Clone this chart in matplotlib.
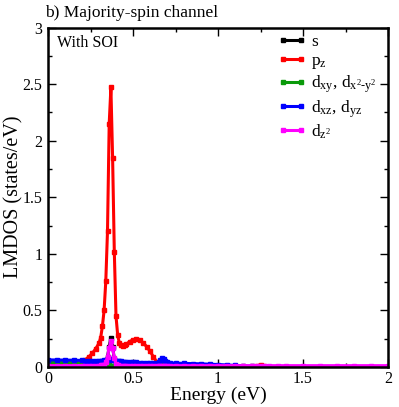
import matplotlib
matplotlib.use("Agg")
import matplotlib.pyplot as plt
from matplotlib.ticker import MultipleLocator

plt.rcParams['font.family'] = ['Liberation Serif', 'DejaVu Serif']
plt.rcParams['mathtext.fontset'] = 'custom'
plt.rcParams['mathtext.rm'] = 'Liberation Serif'
plt.rcParams['mathtext.it'] = 'Liberation Serif:italic'

energy = [0.00, 0.05, 0.10, 0.15, 0.20, 0.22, 0.24, 0.26, 0.28,
          0.30, 0.31, 0.32, 0.33, 0.34, 0.35, 0.36, 0.37, 0.38, 0.39,
          0.40, 0.41, 0.42, 0.43, 0.44, 0.45, 0.46,
          0.48, 0.50, 0.52, 0.54, 0.56, 0.58, 0.60, 0.62, 0.64,
          0.65, 0.66, 0.67, 0.68, 0.69, 0.70,
          0.72, 0.75, 0.80, 0.85, 0.90, 0.95, 1.00,
          1.05, 1.10, 1.15, 1.20,
          1.23, 1.25, 1.27, 1.30,
          1.35, 1.40, 1.50, 1.60, 1.70, 1.80, 1.90, 2.00]

dos_s = [0.004, 0.004, 0.004, 0.004, 0.004, 0.004, 0.004, 0.005, 0.005,
         0.006, 0.008, 0.012, 0.025, 0.05, 0.09, 0.18, 0.26, 0.18, 0.07,
         0.025, 0.012, 0.008, 0.006, 0.005, 0.005, 0.005,
         0.004, 0.004, 0.004, 0.004, 0.004, 0.004, 0.004, 0.004, 0.004,
         0.004, 0.004, 0.005, 0.005, 0.004, 0.004,
         0.004, 0.004, 0.004, 0.004, 0.004, 0.004, 0.004,
         0.004, 0.004, 0.004, 0.004,
         0.004, 0.004, 0.004, 0.004,
         0.004, 0.004, 0.004, 0.004, 0.004, 0.004, 0.004, 0.004]

dos_pz = [0.02, 0.02, 0.025, 0.03, 0.045, 0.065, 0.09, 0.12, 0.16,
          0.21, 0.26, 0.36, 0.50, 0.76, 1.20, 2.15, 2.47, 1.85, 1.02,
          0.45, 0.28, 0.21, 0.19, 0.185, 0.19, 0.20,
          0.225, 0.24, 0.245, 0.235, 0.215, 0.18, 0.14, 0.09, 0.045,
          0.03, 0.02, 0.02, 0.02, 0.015, 0.012,
          0.01, 0.01, 0.008, 0.007, 0.006, 0.006, 0.005,
          0.005, 0.005, 0.005, 0.006,
          0.01, 0.02, 0.01, 0.004,
          0.003, 0.002, 0.002, 0.001, 0.001, 0.001, 0.001, 0.001]

dos_dxy = [0.04, 0.04, 0.04, 0.039, 0.038, 0.037, 0.037, 0.036, 0.036,
           0.035, 0.034, 0.033, 0.03, 0.025, 0.02, 0.016, 0.013, 0.011, 0.01,
           0.01, 0.01, 0.01, 0.01, 0.01, 0.01, 0.01,
           0.01, 0.01, 0.01, 0.01, 0.01, 0.01, 0.01, 0.01, 0.011,
           0.013, 0.017, 0.026, 0.022, 0.012, 0.009,
           0.008, 0.008, 0.007, 0.007, 0.006, 0.006, 0.005,
           0.005, 0.004, 0.004, 0.003,
           0.003, 0.003, 0.002, 0.002,
           0.002, 0.002, 0.002, 0.002, 0.002, 0.002, 0.002, 0.002]

dos_dxz = [0.063, 0.062, 0.061, 0.06, 0.058, 0.057, 0.056, 0.056, 0.055,
           0.055, 0.055, 0.056, 0.058, 0.06, 0.065, 0.07, 0.072, 0.065, 0.058,
           0.054, 0.052, 0.05, 0.049, 0.048, 0.047, 0.046,
           0.044, 0.042, 0.04, 0.038, 0.036, 0.034, 0.033, 0.033, 0.036,
           0.045, 0.06, 0.078, 0.07, 0.05, 0.04,
           0.036, 0.034, 0.032, 0.03, 0.028, 0.025, 0.022,
           0.018, 0.014, 0.01, 0.006,
           0.004, 0.003, 0.002, 0.001,
           0.001, 0.001, 0.001, 0.001, 0.001, 0.001, 0.001, 0.001]

dos_dz2 = [0.012, 0.012, 0.012, 0.012, 0.012, 0.012, 0.012, 0.012, 0.012,
           0.013, 0.014, 0.016, 0.022, 0.04, 0.09, 0.17, 0.23, 0.17, 0.08,
           0.03, 0.016, 0.013, 0.012, 0.012, 0.012, 0.012,
           0.012, 0.012, 0.012, 0.012, 0.012, 0.012, 0.012, 0.012, 0.012,
           0.012, 0.012, 0.013, 0.013, 0.012, 0.012,
           0.012, 0.012, 0.012, 0.012, 0.012, 0.012, 0.012,
           0.012, 0.012, 0.012, 0.012,
           0.012, 0.012, 0.012, 0.012,
           0.012, 0.012, 0.012, 0.012, 0.012, 0.012, 0.012, 0.012]

series = [
    (dos_s, 'black', 's'),
    (dos_pz, 'red', r'$\mathrm{p_z}$'),
    (dos_dxy, '#0a9a0a', r'$\mathrm{d_{xy}}$, $\mathrm{d_{x^2\text{-}y^2}}$'),
    (dos_dxz, 'blue', r'$\mathrm{d_{xz}}$, $\mathrm{d_{yz}}$'),
    (dos_dz2, 'magenta', r'$\mathrm{d_{z^2}}$'),
]

x_ticks = [0, 0.5, 1, 1.5, 2]
x_tick_labels = ['0', '0.5', '1', '1.5', '2']
y_ticks = [0, 0.5, 1, 1.5, 2, 2.5, 3]
y_tick_labels = ['0', '0.5', '1', '1.5', '2', '2.5', '3']

fig = plt.figure(figsize=(3.99, 4.07), dpi=100)
ax = fig.add_axes([48/399, 1 - 367/407, 340/399, 339.5/407])

for vals, col, lab in series:
    ax.plot(energy, vals, color=col, lw=2.2, marker='s', ms=2.6,
            mec=col, mfc=col, label=lab)

ax.set_xlim(0, 2)
ax.set_ylim(0, 3)
ax.set_xticks(x_ticks)
ax.set_xticklabels(x_tick_labels)
ax.set_yticks(y_ticks)
ax.set_yticklabels(y_tick_labels)
ax.xaxis.set_minor_locator(MultipleLocator(0.25))
ax.yaxis.set_minor_locator(MultipleLocator(0.25))
ax.tick_params(which='both', direction='in', top=True, right=True,
               labelsize=11.5, width=1.0)
ax.tick_params(which='major', length=6, pad=4)
ax.tick_params(axis='x', which='major', pad=3)
ax.tick_params(which='minor', length=3)
for sp in ax.spines.values():
    sp.set_linewidth(1.8)

ax.set_xlabel('Energy (eV)', fontsize=14, labelpad=0)
ax.set_ylabel('LMDOS (states/eV)', fontsize=14.5, labelpad=-0.5)

fig.text(45/399, 1 - 13/407, 'b) Majority-spin channel', fontsize=12.5,
         ha='left', va='center')
ax.text(0.027, 0.955, 'With SOI', transform=ax.transAxes, fontsize=11.5,
        ha='left', va='center')

leg = ax.legend(loc='upper left', bbox_to_anchor=(0.672, 0.985), frameon=False,
                numpoints=2, fontsize=12.5, handlelength=1.6,
                handletextpad=0.3, labelspacing=0.15, borderpad=0.1,
                borderaxespad=0.0)

fig.savefig('out.png', dpi=100)
